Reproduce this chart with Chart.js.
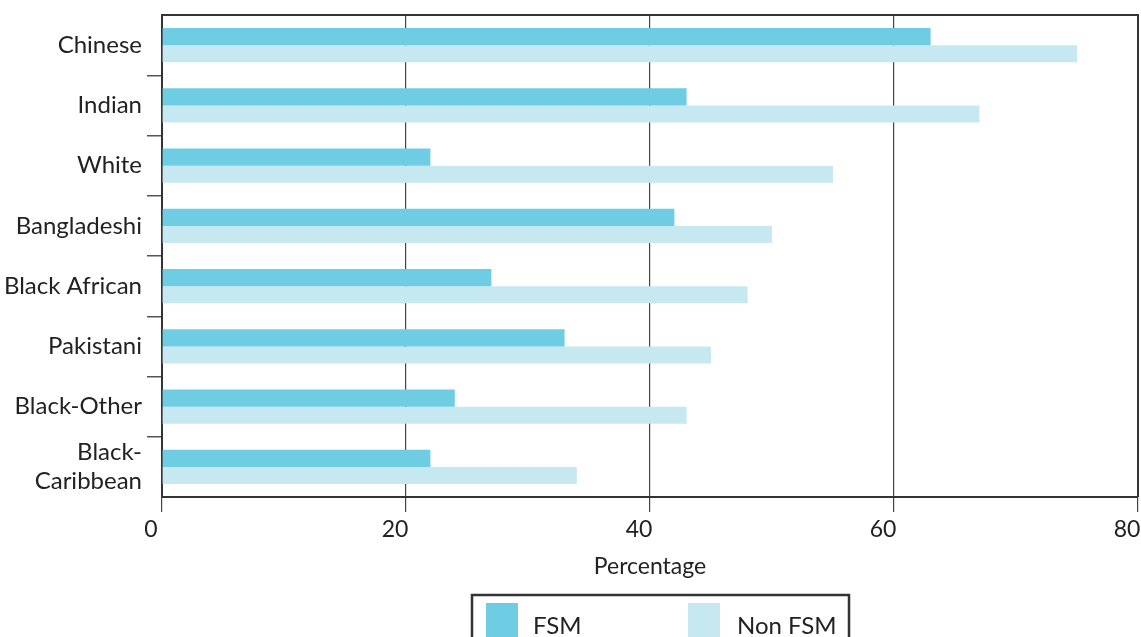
<!DOCTYPE html>
<html>
<head>
<meta charset="utf-8">
<script src="https://cdn.jsdelivr.net/npm/chart.js@4"></script>
<style>
  html, body { margin: 0; padding: 0; background: #fff; }
  #wrap { width: 1141px; height: 637px; position: relative; }
</style>
</head>
<body>
<div id="wrap"><canvas id="chart"></canvas></div>
<script>
const categories = ['Chinese', 'Indian', 'White', 'Bangladeshi', 'Black African', 'Pakistani', 'Black-Other', ['Black-', 'Caribbean']];
const fsmValues = [63, 43, 22, 42, 27, 33, 24, 22];
const nonFsmValues = [75, 67, 55, 50, 48, 45, 43, 34];
const xTicks = [0, 20, 40, 60, 80];

const fsmColor = '#6fcde3';
const nonFsmColor = '#c6e9f1';
const textColor = '#222';
const fontFamily = 'Lato, "Open Sans", sans-serif';

// box round the plot area (top and right edges) and the legend at the bottom
const framePlugin = {
  id: 'frame',
  afterDraw(chart) {
    const ctx = chart.ctx;
    const a = chart.chartArea;
    ctx.save();
    ctx.strokeStyle = '#333';
    ctx.lineWidth = 2;
    ctx.beginPath();
    ctx.moveTo(a.left, a.top);
    ctx.lineTo(a.right, a.top);
    ctx.lineTo(a.right, a.bottom);
    ctx.stroke();

    // legend
    const boxLeft = 472, boxRight = 849, boxTop = 595;
    ctx.lineWidth = 2.5;
    ctx.strokeStyle = '#333';
    ctx.strokeRect(boxLeft, boxTop, boxRight - boxLeft, 60);
    const items = [
      { x: 486, textX: 533 },
      { x: 688, textX: 737 }
    ];
    ctx.font = '24px ' + fontFamily;
    ctx.textBaseline = 'alphabetic';
    ctx.textAlign = 'left';
    chart.data.datasets.forEach((ds, i) => {
      ctx.fillStyle = ds.backgroundColor;
      ctx.fillRect(items[i].x, boxTop + 8, 32, 40);
      ctx.fillStyle = textColor;
      ctx.fillText(ds.label, items[i].textX, boxTop + 39);
    });
    ctx.restore();
  }
};

new Chart(document.getElementById('chart'), {
  type: 'bar',
  data: {
    labels: categories,
    datasets: [
      { label: 'FSM', data: fsmValues, backgroundColor: fsmColor, categoryPercentage: 0.57, barPercentage: 1.0 },
      { label: 'Non FSM', data: nonFsmValues, backgroundColor: nonFsmColor, categoryPercentage: 0.57, barPercentage: 1.0 }
    ]
  },
  options: {
    indexAxis: 'y',
    responsive: true,
    maintainAspectRatio: false,
    animation: false,
    layout: { padding: { top: 15, right: 3, bottom: 0, left: 0 } },
    plugins: {
      legend: { display: false },
      tooltip: { enabled: false }
    },
    scales: {
      x: {
        min: 0,
        max: 80,
        afterBuildTicks(scale) {
          scale.ticks = xTicks.map(v => ({ value: v }));
        },
        afterFit(scale) {
          scale.height = 140;
          scale.paddingLeft = 0;
          scale.paddingRight = 0;
        },
        grid: {
          color: '#444',
          lineWidth: 1.2,
          tickLength: 15,
          drawTicks: true
        },
        border: { color: '#333', width: 2 },
        ticks: {
          color: textColor,
          font: { family: fontFamily, size: 23 },
          padding: 4,
          labelOffset: -11,
          maxRotation: 0
        },
        title: {
          display: true,
          text: 'Percentage',
          color: textColor,
          font: { family: fontFamily, size: 23 },
          padding: { top: 0, bottom: 57 }
        }
      },
      y: {
        afterFit(scale) {
          scale.width = 162;
          scale.paddingTop = 0;
          scale.paddingBottom = 0;
        },
        grid: {
          drawOnChartArea: false,
          tickLength: 15,
          color: ctx => (ctx.type !== 'tick' || ctx.index === 0) ? 'rgba(0,0,0,0)' : '#555',
          lineWidth: 1.5
        },
        border: { color: '#333', width: 2 },
        ticks: {
          color: textColor,
          font: { family: fontFamily, size: 24 },
          padding: 5,
          autoSkip: false
        }
      }
    }
  },
  plugins: [framePlugin]
});
</script>
</body>
</html>
